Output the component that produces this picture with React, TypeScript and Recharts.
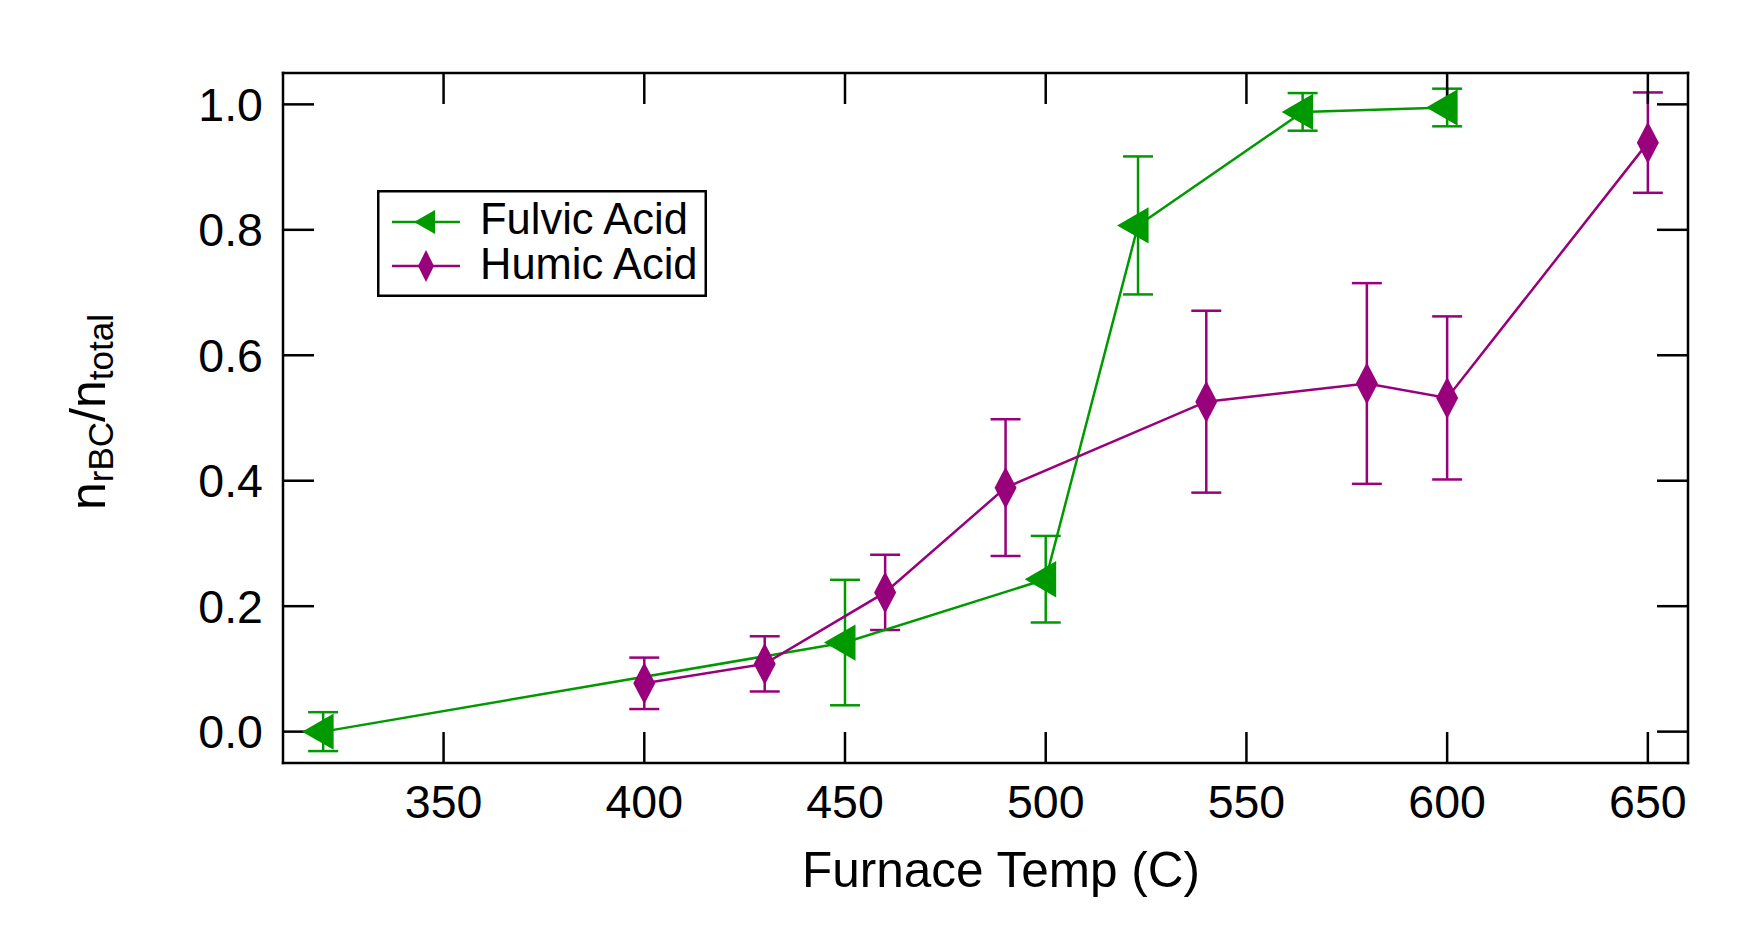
import React from 'react';
import { ScatterChart, Scatter, XAxis, YAxis, ErrorBar, Legend, Label } from 'recharts';

const FONT = '"Liberation Sans", Arial, Helvetica, sans-serif';
const GREEN = '#009900';
const PURPLE = '#99007b';

// Fulvic Acid
const fulvicTemps = [320, 450, 500, 523, 564, 600];
const fulvicValues = [0.0, 0.142, 0.243, 0.807, 0.988, 0.995];
const fulvicErrors = [0.031, 0.1, 0.069, 0.11, 0.03, 0.03];

// Humic Acid
const humicTemps = [400, 430, 460, 490, 540, 580, 600, 650];
const humicValues = [0.077, 0.108, 0.222, 0.389, 0.526, 0.555, 0.532, 0.939];
const humicErrors = [0.041, 0.044, 0.06, 0.109, 0.145, 0.16, 0.13, 0.08];

const seriesNames = ['Fulvic Acid', 'Humic Acid'];
const xTicks = [350, 400, 450, 500, 550, 600, 650];
const yTicks = [0, 0.2, 0.4, 0.6, 0.8, 1.0];
const xDomain: [number, number] = [310, 660];
const yDomain: [number, number] = [-0.05, 1.05];

const fulvicData = fulvicTemps.map((t, i) => ({ temp: t, frac: fulvicValues[i], err: fulvicErrors[i] }));
const humicData = humicTemps.map((t, i) => ({ temp: t, frac: humicValues[i], err: humicErrors[i] }));

const triPoints = (cx: number, cy: number, r: number) =>
  `${cx - r},${cy} ${cx + r / 2},${cy - r * 0.866} ${cx + r / 2},${cy + r * 0.866}`;
const diaPoints = (cx: number, cy: number, w: number, h: number) =>
  `${cx},${cy - h} ${cx + w},${cy} ${cx},${cy + h} ${cx - w},${cy}`;

const TriangleLeft = (props: any) => {
  const { cx, cy } = props;
  if (cx == null || cy == null) return null;
  return <polygon points={triPoints(cx, cy, 21)} fill={GREEN} />;
};

const Diamond = (props: any) => {
  const { cx, cy } = props;
  if (cx == null || cy == null) return null;
  return <polygon points={diaPoints(cx, cy, 11, 21)} fill={PURPLE} />;
};

const Nothing = () => <g />;

const LegendBox = () => (
  <svg width={330} height={107} style={{ display: 'block' }}>
    <rect x={1.25} y={1.25} width={327.5} height={104.5} fill="#fff" stroke="#000" strokeWidth={2.5} />
    <line x1={15} y1={32} x2={83} y2={32} stroke={GREEN} strokeWidth={2.5} />
    <polygon points={triPoints(51, 32, 14)} fill={GREEN} />
    <text x={103} y={44} fontSize={43.5} fontFamily={FONT} fill="#000">{seriesNames[0]}</text>
    <line x1={15} y1={76} x2={83} y2={76} stroke={PURPLE} strokeWidth={2.5} />
    <polygon points={diaPoints(49, 76, 8, 16)} fill={PURPLE} />
    <text x={103} y={89} fontSize={43.5} fontFamily={FONT} fill="#000">{seriesNames[1]}</text>
  </svg>
);

const XTitle = () => (
  <text x={1001} y={887} textAnchor="middle" fontSize={49.5} fontFamily={FONT} fill="#000">
    Furnace Temp (C)
  </text>
);

const YTitle = () => (
  <text transform="translate(105, 412) rotate(-90)" textAnchor="middle" fontSize={50} fontFamily={FONT} fill="#000">
    <tspan>n</tspan>
    <tspan fontSize={35} dy={8}>rBC</tspan>
    <tspan dy={-8}>/n</tspan>
    <tspan fontSize={35} dy={8}>total</tspan>
  </text>
);

const frameLine = { stroke: '#000', strokeWidth: 2.5, strokeLinecap: 'square' as const };
const tickLine = { stroke: '#000', strokeWidth: 2.5 };
const tickFont = { fontSize: 46.5, fill: '#000', fontFamily: FONT };
const emptyTick = () => <g />;

export default function App() {
  return (
    <div style={{ position: 'absolute', left: 0, top: 0, width: 1761, height: 947, background: '#fff' }}>
      <ScatterChart width={1761} height={947} margin={{ top: 72, right: 72, bottom: 0, left: 0 }}>
        {/* bottom and left axes: frame, inward ticks and labels */}
        <XAxis
          xAxisId="main"
          dataKey="temp"
          type="number"
          domain={xDomain}
          allowDataOverflow
          ticks={xTicks}
          interval={0}
          height={184}
          axisLine={frameLine}
          tickLine={tickLine}
          tickSize={-31}
          tickMargin={53}
          tick={tickFont}
        >
          <Label content={<XTitle />} />
        </XAxis>
        <YAxis
          yAxisId="main"
          dataKey="frac"
          type="number"
          domain={yDomain}
          allowDataOverflow
          ticks={yTicks}
          interval={0}
          width={283}
          axisLine={frameLine}
          tickLine={tickLine}
          tickSize={-31}
          tickMargin={51}
          tick={tickFont}
          tickFormatter={(v: number) => v.toFixed(1)}
        >
          <Label content={<YTitle />} />
        </YAxis>
        {/* top and right axes: frame with inward ticks */}
        <XAxis xAxisId="top" dataKey="temp" type="number" orientation="top" height={1} domain={xDomain} allowDataOverflow ticks={xTicks} interval={0} tick={emptyTick} tickSize={-31} axisLine={frameLine} tickLine={tickLine} />
        <YAxis yAxisId="right" dataKey="frac" type="number" orientation="right" width={1} domain={yDomain} allowDataOverflow ticks={yTicks} interval={0} tick={emptyTick} tickSize={-31} axisLine={frameLine} tickLine={tickLine} />

        <Scatter
          name="frame"
          data={fulvicData}
          xAxisId="top"
          yAxisId="right"
          dataKey="frac"
          legendType="none"
          shape={Nothing}
          isAnimationActive={false}
        />
        <Scatter
          name={seriesNames[0]}
          data={fulvicData}
          xAxisId="main"
          yAxisId="main"
          dataKey="frac"
          fill={GREEN}
          line={{ stroke: GREEN, strokeWidth: 2.5 }}
          lineType="joint"
          shape={TriangleLeft}
          isAnimationActive={false}
        >
          <ErrorBar dataKey="err" direction="y" width={15} stroke={GREEN} strokeWidth={2.5} isAnimationActive={false} />
        </Scatter>
        <Scatter
          name={seriesNames[1]}
          data={humicData}
          xAxisId="main"
          yAxisId="main"
          dataKey="frac"
          fill={PURPLE}
          line={{ stroke: PURPLE, strokeWidth: 2.5 }}
          lineType="joint"
          shape={Diamond}
          isAnimationActive={false}
        >
          <ErrorBar dataKey="err" direction="y" width={15} stroke={PURPLE} strokeWidth={2.5} isAnimationActive={false} />
        </Scatter>
        <Legend
          layout="horizontal"
          verticalAlign="middle"
          align="center"
          width={330}
          height={107}
          wrapperStyle={{ left: 377, top: 190, width: 330, height: 107 }}
          content={() => <LegendBox />}
        />
      </ScatterChart>
    </div>
  );
}
